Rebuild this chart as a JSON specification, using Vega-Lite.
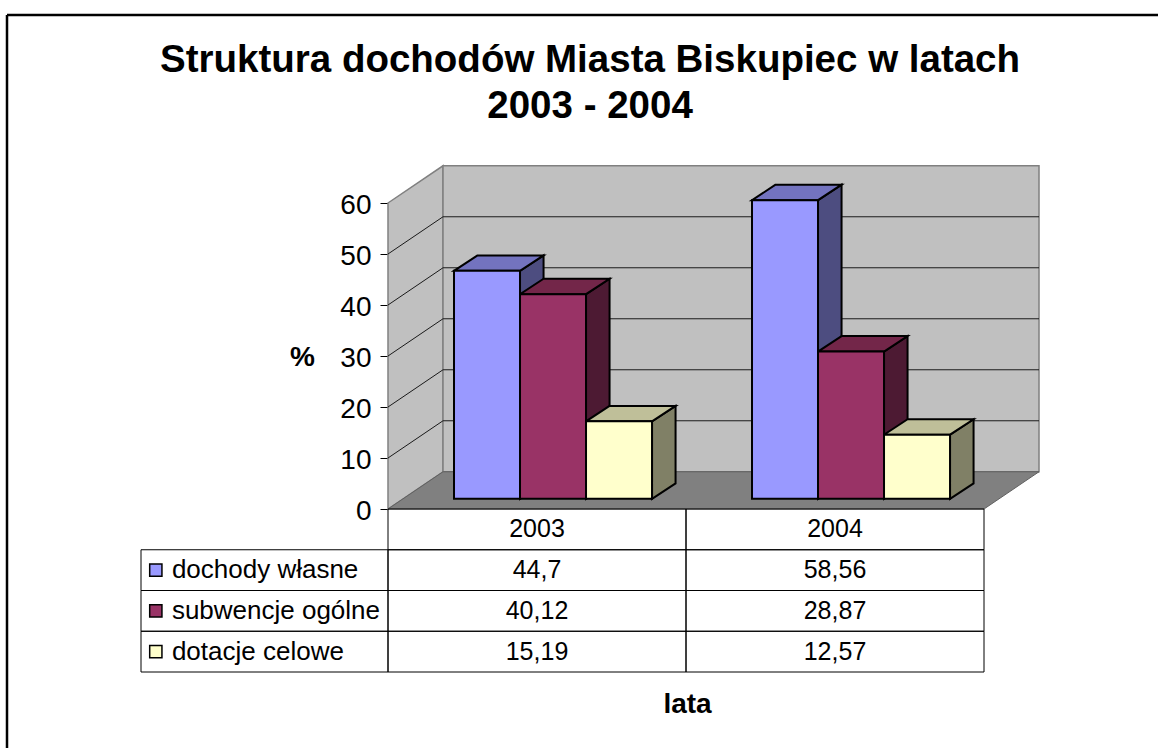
{
"$schema":"https://vega.github.io/schema/vega-lite/v6.json",
"width":1158,"height":748,"padding":0,
"autosize":{"type":"fit","contains":"padding"},
"background":"white",
"config":{"view":{"stroke":null},"font":"Liberation Sans"},
"datasets":{
"bars":[
{"year":2003,"series":"dochody własne","order":0,"value":44.7},
{"year":2003,"series":"subwencje ogólne","order":1,"value":40.12},
{"year":2003,"series":"dotacje celowe","order":2,"value":15.19},
{"year":2004,"series":"dochody własne","order":0,"value":58.56},
{"year":2004,"series":"subwencje ogólne","order":1,"value":28.87},
{"year":2004,"series":"dotacje celowe","order":2,"value":12.57}],
"steps":[{"step":0},{"step":1}],
"levels":[{"level":10},{"level":20},{"level":30},{"level":40},{"level":50}],
"one":[{"n":1}],
"rows":[{"series":"dochody własne"},{"series":"subwencje ogólne"},{"series":"dotacje celowe"}],
"years":[{"year":2003},{"year":2004}]
},
"layer":[
{"data":{"name":"one"},
 "layer":[
 {"mark":{"type":"rule","stroke":"black","strokeWidth":2.5},
  "encoding":{"x":{"datum":0,"type":"quantitative","axis":null,"scale":{"domain":[0,1],"range":[7,1160]}},"x2":{"datum":1},"y":{"datum":0,"type":"quantitative","axis":null,"scale":{"domain":[0,1],"range":[15,760]}}}},
 {"mark":{"type":"rule","stroke":"black","strokeWidth":2.5},
  "encoding":{"x":{"datum":0,"type":"quantitative","axis":null},"y":{"datum":0,"type":"quantitative","axis":null},"y2":{"datum":1}}}
 ]},
{"layer":[
 {"data":{"name":"steps"},
  "transform":[{"calculate":"datum.step*0.1846","as":"wx"},{"calculate":"datum.step*7.3","as":"wy0"},{"calculate":"60+datum.step*7.3","as":"wy1"}],
  "mark":{"type":"area","fill":"#c0c0c0","stroke":"#808080","strokeWidth":1.5},
  "encoding":{
   "x":{"field":"wx","type":"quantitative","title":"lata","scale":{"domain":[0,2],"range":[388,984]},
    "axis":{"labels":false,"ticks":false,"domain":false,"grid":false,"titleFontSize":28,"titleFontWeight":"bold","titleColor":"black","titleX":687,"titleY":-44,"titleFont":"Liberation Sans"}},
   "y":{"field":"wy1","type":"quantitative","title":"%","scale":{"domain":[0,60],"range":[509,203]},
    "axis":{"values":[0,10,20,30,40,50,60],"offset":-388,"tickSize":8,"tickColor":"black","domain":false,"grid":false,"labelFontSize":28,"labelColor":"black","labelPadding":9,"labelOffset":2,"labelFont":"Liberation Sans","titleFontSize":28,"titleFontWeight":"bold","titleColor":"black","titleAngle":0,"titleX":-86,"titleY":371,"titleFont":"Liberation Sans"}},
   "y2":{"field":"wy0"}}},
 {"data":{"name":"one"},
  "mark":{"type":"rect","fill":"#c0c0c0","stroke":"#808080","strokeWidth":1.5},
  "encoding":{"x":{"datum":0.1846,"type":"quantitative"},"x2":{"datum":2.1846},"y":{"datum":7.3,"type":"quantitative"},"y2":{"datum":67.3}}},
 {"data":{"name":"levels"},
  "transform":[{"calculate":"[0,1,2]","as":"pt"},{"flatten":["pt"]},{"calculate":"datum.pt==0?0:(datum.pt==1?0.1846:2.1846)","as":"gx"},{"calculate":"datum.level+(datum.pt==0?0:7.3)","as":"gy"}],
  "mark":{"type":"line","stroke":"#1a1a1a","strokeWidth":1},
  "encoding":{"x":{"field":"gx","type":"quantitative"},"y":{"field":"gy","type":"quantitative"},"detail":{"field":"level"}}},
 {"data":{"name":"steps"},
  "transform":[{"calculate":"datum.step*0.1846","as":"fx"},{"calculate":"2+datum.step*0.1846","as":"fx2"},{"calculate":"datum.step*7.3","as":"fy"}],
  "mark":{"type":"area","orient":"horizontal","fill":"#808080","stroke":"#606060","strokeWidth":1},
  "encoding":{"x":{"field":"fx","type":"quantitative"},"x2":{"field":"fx2"},"y":{"field":"fy","type":"quantitative"}}},
 {"data":{"name":"bars"},
  "transform":[
   {"calculate":"(datum.year-2003)+0.2215*(datum.order+1)","as":"start"},
   {"calculate":"datum.start+0.2215","as":"end"},
   {"calculate":"datum.year+'-'+datum.order","as":"id"},
   {"calculate":"[0,1]","as":"step"},{"flatten":["step"]},
   {"calculate":"datum.end+datum.step*0.079","as":"sx"},
   {"calculate":"2+datum.value+datum.step*3.03","as":"sy"},
   {"calculate":"2+datum.step*3.03","as":"sy0"},
   {"calculate":"datum.start+datum.step*0.079","as":"tx"},
   {"calculate":"datum.end+datum.step*0.079","as":"tx2"}
  ],
  "layer":[
  {"mark":{"type":"area","stroke":"black","strokeWidth":2,"strokeJoin":"miter"},
   "encoding":{"x":{"field":"sx","type":"quantitative"},"y":{"field":"sy","type":"quantitative"},"y2":{"field":"sy0"},"detail":{"field":"id"},
    "fill":{"field":"series","type":"nominal","legend":null,"scale":{"domain":["dochody własne","subwencje ogólne","dotacje celowe"],"range":["#4d4d80","#4d1a33","#808066"]}}}},
  {"mark":{"type":"area","orient":"horizontal","stroke":"black","strokeWidth":2,"strokeJoin":"miter"},
   "encoding":{"x":{"field":"tx","type":"quantitative"},"x2":{"field":"tx2"},"y":{"field":"sy","type":"quantitative"},"detail":{"field":"id"},
    "fill":{"field":"series","type":"nominal","legend":null,"scale":{"domain":["dochody własne","subwencje ogólne","dotacje celowe"],"range":["#7373bf","#732649","#bfbf99"]}}}},
  {"transform":[{"filter":"datum.step==0"},{"calculate":"2+datum.value","as":"top"},{"calculate":"2","as":"base"}],
   "mark":{"type":"rect","stroke":"black","strokeWidth":2},
   "encoding":{"x":{"field":"start","type":"quantitative"},"x2":{"field":"end"},"y":{"field":"top","type":"quantitative"},"y2":{"field":"base"},
    "fill":{"field":"series","type":"nominal","legend":null,"scale":{"domain":["dochody własne","subwencje ogólne","dotacje celowe"],"range":["#9999ff","#993366","#ffffcc"]}}}}
  ],
  "resolve":{"scale":{"fill":"independent"}}},
 {"data":{"name":"one"},
  "mark":{"type":"text","fontSize":38.5,"fontWeight":"bold","font":"Liberation Sans","align":"center","baseline":"middle","fill":"black"},
  "encoding":{"x":{"datum":0.678,"type":"quantitative"},"y":{"datum":88.1,"type":"quantitative"},"text":{"value":"Struktura dochodów Miasta Biskupiec w latach"}}},
 {"data":{"name":"one"},
  "mark":{"type":"text","fontSize":38.5,"fontWeight":"bold","font":"Liberation Sans","align":"center","baseline":"middle","fill":"black"},
  "encoding":{"x":{"datum":0.678,"type":"quantitative"},"y":{"datum":79.1,"type":"quantitative"},"text":{"value":"2003 - 2004"}}}
 ],
 "resolve":{"scale":{"fill":"independent"}}},
{"layer":[
 {"data":{"name":"years"},
  "mark":{"type":"rect","fill":"transparent","stroke":"black","strokeWidth":1},
  "encoding":{"x":{"field":"year","type":"nominal","axis":null,"scale":{"type":"band","domain":[2003,2004],"range":[388,984],"paddingInner":0,"paddingOuter":0}},
   "y":{"datum":"header","type":"nominal","axis":null,"scale":{"type":"band","domain":["header","dochody własne","subwencje ogólne","dotacje celowe"],"range":[509,672],"paddingInner":0,"paddingOuter":0}}}},
 {"data":{"name":"years"},
  "mark":{"type":"text","fontSize":25,"font":"Liberation Sans","fill":"black"},
  "encoding":{"x":{"field":"year","type":"nominal","axis":null},"y":{"datum":"header","type":"nominal","axis":null},"text":{"field":"year","type":"nominal"}}},
 {"data":{"name":"bars"},
  "mark":{"type":"rect","fill":"transparent","stroke":"black","strokeWidth":1},
  "encoding":{"x":{"field":"year","type":"nominal","axis":null},"y":{"field":"series","type":"nominal","axis":null}}},
 {"data":{"name":"bars"},
  "transform":[{"calculate":"replace(toString(datum.value),'.',',')","as":"label"}],
  "mark":{"type":"text","fontSize":25,"font":"Liberation Sans","fill":"black"},
  "encoding":{"x":{"field":"year","type":"nominal","axis":null},"y":{"field":"series","type":"nominal","axis":null},"text":{"field":"label"}}}
 ]},
{"data":{"name":"rows"},
 "layer":[
 {"mark":{"type":"rect","fill":"transparent","stroke":"black","strokeWidth":1},
  "encoding":{"x":{"datum":0,"type":"quantitative","axis":null,"scale":{"domain":[0,1],"range":[141,388]}},"x2":{"datum":1},
   "y":{"field":"series","type":"nominal","axis":null,"scale":{"type":"band","domain":["header","dochody własne","subwencje ogólne","dotacje celowe"],"range":[509,672],"paddingInner":0,"paddingOuter":0}}}},
 {"mark":{"type":"point","shape":"square","filled":true,"size":150,"stroke":"black","strokeWidth":1.5,"opacity":1},
  "encoding":{"x":{"datum":0.06,"type":"quantitative","axis":null},"y":{"field":"series","type":"nominal","axis":null},
   "fill":{"field":"series","type":"nominal","legend":null,"scale":{"domain":["dochody własne","subwencje ogólne","dotacje celowe"],"range":["#9999ff","#993366","#ffffcc"]}}}},
 {"mark":{"type":"text","fontSize":26,"font":"Liberation Sans","align":"left","fill":"black"},
  "encoding":{"x":{"datum":0.125,"type":"quantitative","axis":null},"y":{"field":"series","type":"nominal","axis":null},"text":{"field":"series"}}}
 ]}
],
"resolve":{"scale":{"x":"independent","y":"independent","fill":"independent"}}
}
